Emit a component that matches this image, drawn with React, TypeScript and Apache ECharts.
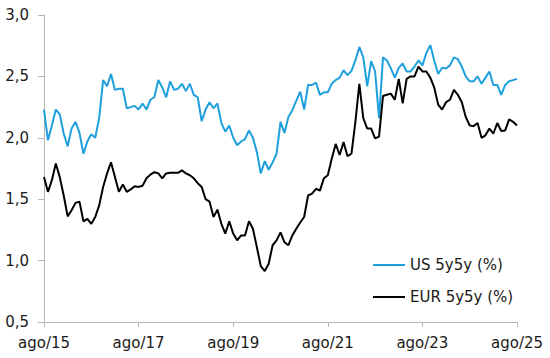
import React, { useEffect, useRef } from "react";
import * as echarts from "echarts";

const MONTHS = ["jan", "fev", "mar", "abr", "mai", "jun", "jul", "ago", "set", "out", "nov", "dez"];

// Monthly observations, ago/15 .. ago/25
const categories: string[] = [];
for (let i = 0; i <= 120; i++) {
  const m = (7 + i) % 12;
  const y = 15 + Math.floor((7 + i) / 12);
  categories.push(`${MONTHS[m]}/${y}`);
}

const usSeries = [
  2.23, 1.98, 2.10, 2.23, 2.19, 2.035, 1.93, 2.075, 2.13, 2.04,
  1.87, 1.97, 2.03, 2.00, 2.16, 2.47, 2.42, 2.52, 2.39, 2.40,
  2.40, 2.24, 2.25, 2.26, 2.23, 2.28, 2.23, 2.31, 2.33, 2.47,
  2.41, 2.33, 2.46, 2.39, 2.40, 2.44, 2.38, 2.44, 2.35, 2.33,
  2.135, 2.23, 2.29, 2.24, 2.28, 2.12, 2.05, 2.10, 2.00, 1.94,
  1.97, 1.99, 2.06, 2.00, 1.885, 1.71, 1.81, 1.74, 1.80, 1.87,
  2.13, 2.04, 2.17, 2.225, 2.30, 2.375, 2.23, 2.43, 2.43, 2.45,
  2.35, 2.37, 2.37, 2.44, 2.47, 2.49, 2.55, 2.51, 2.545, 2.63,
  2.74, 2.655, 2.42, 2.625, 2.54, 2.16, 2.655, 2.63, 2.565, 2.49,
  2.57, 2.605, 2.54, 2.54, 2.58, 2.63, 2.59, 2.69, 2.755, 2.63,
  2.52, 2.57, 2.565, 2.59, 2.655, 2.64, 2.58, 2.50, 2.46, 2.46,
  2.50, 2.44, 2.49, 2.54, 2.43, 2.43, 2.35, 2.43, 2.46, 2.47,
  2.48,
];

const eurSeries = [
  1.68, 1.56, 1.655, 1.79, 1.68, 1.53, 1.36, 1.41, 1.47, 1.48,
  1.32, 1.34, 1.30, 1.355, 1.45, 1.60, 1.71, 1.80, 1.68, 1.56,
  1.62, 1.56, 1.58, 1.605, 1.60, 1.61, 1.67, 1.70, 1.72, 1.71,
  1.67, 1.71, 1.715, 1.715, 1.715, 1.735, 1.71, 1.695, 1.67, 1.63,
  1.60, 1.50, 1.48, 1.355, 1.415, 1.30, 1.22, 1.32, 1.22, 1.165,
  1.205, 1.205, 1.32, 1.26, 1.11, 0.955, 0.915, 0.975, 1.125, 1.165,
  1.23, 1.15, 1.125, 1.205, 1.26, 1.31, 1.355, 1.53, 1.545, 1.585,
  1.57, 1.67, 1.695, 1.83, 1.95, 1.86, 1.965, 1.85, 1.87, 2.13,
  2.44, 2.16, 2.075, 2.075, 1.995, 2.01, 2.34, 2.35, 2.36, 2.31,
  2.48, 2.28, 2.48, 2.50, 2.50, 2.58, 2.54, 2.54, 2.49, 2.41,
  2.27, 2.23, 2.29, 2.31, 2.39, 2.35, 2.29, 2.17, 2.10, 2.095,
  2.12, 2.00, 2.02, 2.075, 2.035, 2.12, 2.055, 2.06, 2.15, 2.13,
  2.10,
];

const seriesNames = ["US 5y5y (%)", "EUR 5y5y (%)"];
const yMin = 0.5;
const yMax = 3.0;
const yStep = 0.5;

const FONT = "DejaVu Sans";
const AXIS_GRAY = "#b4b4b4";
const TEXT = "#1a1a1a";
const BLUE = "#1fa0dd";

export default function App() {
  const ref = useRef<HTMLDivElement>(null);
  useEffect(() => {
    if (!ref.current) return;
    const chart = echarts.init(ref.current, undefined, { renderer: "svg" });
    chart.setOption({
      animation: false,
      backgroundColor: "#ffffff",
      grid: { left: 44, right: 33, top: 15, bottom: 36, containLabel: false },
      legend: {
        orient: "vertical",
        left: 368,
        top: 252,
        icon: "rect",
        itemWidth: 32,
        itemHeight: 2,
        itemGap: 16,
        textStyle: { fontFamily: FONT, fontSize: 15, color: TEXT, lineHeight: 16 },
        data: seriesNames,
      },
      xAxis: {
        type: "category",
        data: categories,
        boundaryGap: false,
        axisLine: { lineStyle: { color: AXIS_GRAY, width: 1 } },
        axisTick: {
          interval: (i: number) => i % 24 === 0,
          length: 5,
          lineStyle: { color: AXIS_GRAY },
        },
        axisLabel: {
          interval: (i: number) => i % 24 === 0,
          fontFamily: FONT,
          fontSize: 15,
          color: TEXT,
          margin: 13,
        },
        splitLine: { show: false },
      },
      yAxis: {
        type: "value",
        min: yMin,
        max: yMax,
        interval: yStep,
        axisLine: { show: true, lineStyle: { color: AXIS_GRAY, width: 1 } },
        axisTick: { show: true, length: 6, lineStyle: { color: AXIS_GRAY } },
        axisLabel: {
          fontFamily: FONT,
          fontSize: 15,
          color: TEXT,
          margin: 15,
          formatter: (v: number) => v.toFixed(1).replace(".", ","),
        },
        splitLine: { show: false },
      },
      series: [
        {
          name: seriesNames[0],
          type: "line",
          data: usSeries,
          showSymbol: false,
          symbol: "none",
          lineStyle: { color: BLUE, width: 2 },
          itemStyle: { color: BLUE },
        },
        {
          name: seriesNames[1],
          type: "line",
          data: eurSeries,
          showSymbol: false,
          symbol: "none",
          lineStyle: { color: "#000000", width: 2 },
          itemStyle: { color: "#000000" },
        },
      ],
    });
    return () => chart.dispose();
  }, []);
  return (
    <div
      ref={ref}
      style={{ position: "fixed", left: 0, top: 0, width: 550, height: 358, background: "#fff" }}
    />
  );
}
